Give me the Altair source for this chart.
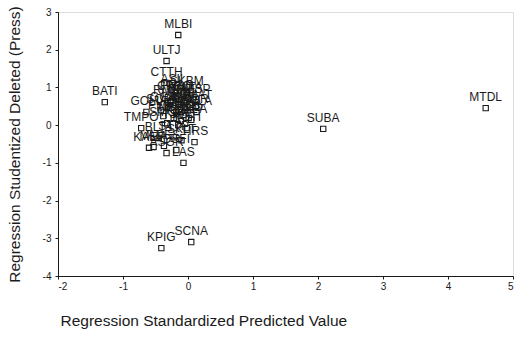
import altair as alt
import pandas as pd

# Case labels, standardized predicted values (x) and studentized deleted residuals (y)
names = ["MLBI", "ULTJ", "BATI", "MTDL", "SUBA", "KPIG", "SCNA", "LAS",
         "CTTH", "ASII", "CPRO", "INAF", "DLTA", "SMAT", "GOLL", "DAPA",
         "TMPO", "SMOR", "TIRS", "UNVR", "INDF", "MYOR", "AQUA", "SMAR",
         "TCID", "KLBF", "MERK", "GGRM", "SQBI", "PYFA", "HMSP", "SKBM",
         "PRAS", "RMBA", "DVLA", "TSPC", "ROTI", "STTP", "SKLT", "BLTA",
         "KAEF", "ADES", "DSFI", "ASGR", "MLIA"]
pred = [-0.15, -0.33, -1.28, 4.58, 2.08, -0.41, 0.05, -0.07,
        -0.33, -0.25, -0.21, -0.10, 0.00, 0.12, -0.64, 0.05,
        -0.72, -0.32, 0.10, -0.15, -0.05, 0.04, -0.18, -0.07,
        0.01, -0.11, -0.22, -0.30, -0.42, -0.38, 0.08, -0.02,
        -0.18, -0.27, 0.13, -0.15, -0.02, -0.22, -0.10, -0.45,
        -0.60, -0.37, -0.18, -0.33, -0.53]
resid = [2.39, 1.70, 0.61, 0.45, -0.10, -3.26, -3.10, -1.00,
         1.12, 0.93, 0.75, 0.67, 0.72, 0.51, 0.35, 0.14,
         -0.08, 0.05, -0.45, 0.56, 0.45, 0.40, 0.35, 0.27,
         0.19, 0.11, 0.19, 0.45, 0.40, 0.24, 0.67, 0.88,
         0.77, 0.64, 0.35, 0.00, -0.08, -0.32, -0.40, -0.34,
         -0.60, -0.55, -0.66, -0.74, -0.58]

x_ticks = [-2, -1, 0, 1, 2, 3, 4, 5]
y_ticks = [-4, -3, -2, -1, 0, 1, 2, 3]

df = pd.DataFrame({"name": names, "pred": pred, "resid": resid})

FONT = "Liberation Sans"
INK = "#1a1a1a"
HYPHEN = "replace(datum.label, '\u2212', '-')"

x_enc = alt.X(
    "pred:Q",
    scale=alt.Scale(domain=[-2, 5], nice=False, zero=False),
    axis=alt.Axis(
        title="Regression Standardized Predicted Value",
        values=x_ticks, grid=False, tickSize=3, labelPadding=2,
        labelFontSize=10, labelFont=FONT, labelColor=INK, labelExpr=HYPHEN,
        titleFont=FONT, titleFontSize=15.5, titleFontWeight="normal", titleColor=INK,
        titleAnchor="start", titleAlign="left", titleX=2, titleY=44,
        titleBaseline="middle",
        domainColor=INK, tickColor=INK,
    ),
)
y_enc = alt.Y(
    "resid:Q",
    scale=alt.Scale(domain=[-4, 3], nice=False, zero=False),
    axis=alt.Axis(
        title="Regression Studentized Deleted (Press)",
        values=y_ticks, grid=False, tickSize=3, labelPadding=4,
        labelFontSize=10, labelFont=FONT, labelColor=INK, labelExpr=HYPHEN,
        titleFont=FONT, titleFontSize=15.5, titleFontWeight="normal", titleColor=INK,
        titleAngle=270, titleX=-44, titleY=132, titleAlign="center",
        titleBaseline="middle",
        domainColor=INK, tickColor=INK,
    ),
)

base = alt.Chart(df).encode(x=x_enc, y=y_enc)

points = base.mark_point(shape="square", filled=False, size=28, strokeWidth=1.1, color=INK, opacity=1)
labels = base.mark_text(dy=-11, fontSize=12, font=FONT, color=INK).encode(text="name:N")

chart = (
    (points + labels)
    .properties(
        width=455, height=264,
        autosize="none",
        padding={"left": 58, "top": 12, "right": 2, "bottom": 65},
    )
    .configure_view(stroke=INK, strokeWidth=1.2)
    .configure(background="white")
)

chart.save("out.html", embed_options={"renderer": "svg", "actions": False})
